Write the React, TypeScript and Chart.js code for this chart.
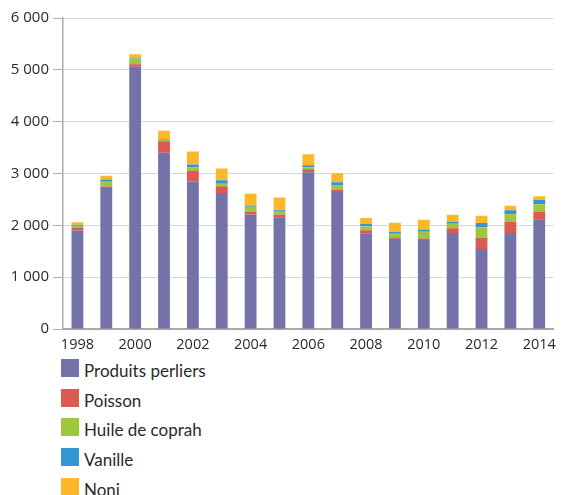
import React, { useEffect, useRef } from "react";
import { Chart, registerables } from "chart.js";

Chart.register(...registerables);

const years = ["1998","1999","2000","2001","2002","2003","2004","2005","2006","2007","2008","2009","2010","2011","2012","2013","2014"];
const produitsPerliers = [1900, 2720, 5060, 3400, 2845, 2626, 2210, 2154, 3025, 2645, 1845, 1742, 1716, 1852, 1542, 1852, 2116];
const poisson = [60, 30, 50, 220, 213, 129, 45, 52, 58, 45, 58, 26, 32, 90, 219, 219, 148];
const huileDeCoprah = [30, 90, 100, 30, 58, 45, 103, 58, 32, 77, 77, 71, 129, 90, 200, 142, 142];
const vanille = [20, 45, 10, 15, 58, 71, 26, 26, 45, 65, 45, 32, 45, 39, 84, 77, 84];
const noni = [50, 70, 80, 160, 252, 226, 226, 245, 213, 174, 116, 181, 187, 135, 142, 90, 71];
const yTicks = [0, 1000, 2000, 3000, 4000, 5000, 6000];

const seriesNames = ["Produits perliers", "Poisson", "Huile de coprah", "Vanille", "Noni"];
const seriesColors = ["#7472a9", "#db5a52", "#9dc83e", "#3397d1", "#fdb72a"];
const seriesData = [produitsPerliers, poisson, huileDeCoprah, vanille, noni];

const FONT = "'Open Sans', 'Noto Sans', sans-serif";
const LEGEND_FONT = "Lato, 'Open Sans', sans-serif";

export default function App() {
  const ref = useRef<HTMLCanvasElement | null>(null);
  useEffect(() => {
    if (!ref.current) return;
    const chart = new Chart(ref.current, {
      type: "bar",
      data: {
        labels: years,
        datasets: seriesNames.map((name, i) => ({
          label: name,
          data: seriesData[i],
          backgroundColor: seriesColors[i],
          borderWidth: 0,
          barPercentage: 0.82,
          categoryPercentage: 0.5,
        })),
      },
      options: {
        animation: false,
        responsive: false,
        maintainAspectRatio: false,
        layout: { padding: { top: 18, right: 6, left: 0, bottom: 0 } },
        plugins: { legend: { display: false }, tooltip: { enabled: false } },
        scales: {
          x: {
            stacked: true,
            grid: { display: false, drawTicks: false },
            border: { color: "#a9a9a9", width: 2 },
            ticks: {
              autoSkip: false,
              maxRotation: 0,
              padding: 7,
              color: "#2a2a2a",
              font: { family: FONT, size: 14.5 },
              callback: (_v: any, i: number) => (i % 2 === 0 ? years[i] : ""),
            },
            afterFit: (s: any) => { s.height = 21; },
          },
          y: {
            stacked: true,
            min: 0,
            max: 6000,
            afterBuildTicks: (s: any) => { s.ticks = yTicks.map((v) => ({ value: v })); },
            grid: { color: "#d9d9d9", lineWidth: 1, tickLength: 10, tickColor: "#b0b0b0" },
            border: { color: "#a9a9a9", width: 1.5 },
            ticks: {
              padding: 4,
              color: "#2a2a2a",
              font: { family: FONT, size: 15 },
              callback: (v: any) => String(v).replace(/\B(?=(\d{3})+(?!\d))/g, " "),
            },
            afterFit: (s: any) => { s.width = 63; },
          },
        },
      },
    });
    return () => chart.destroy();
  }, []);

  return (
    <div style={{ position: "absolute", left: 0, top: 0, width: 563, height: 495, background: "#fff" }}>
      <canvas ref={ref} width={563} height={350} style={{ display: "block", width: 563, height: 350 }} />
      <div style={{ position: "absolute", left: 61, top: 359 }}>
        {seriesNames.map((name, i) => (
          <div key={name} style={{ position: "relative", height: 18, marginBottom: 11.7 }}>
            <div style={{ position: "absolute", left: 0, top: 0, width: 18, height: 18, background: seriesColors[i] }} />
            <span style={{ position: "absolute", left: 23, top: 2, whiteSpace: "nowrap", fontFamily: LEGEND_FONT, fontSize: 17, color: "#2a2a2a", lineHeight: "20px" }}>{name}</span>
          </div>
        ))}
      </div>
    </div>
  );
}
